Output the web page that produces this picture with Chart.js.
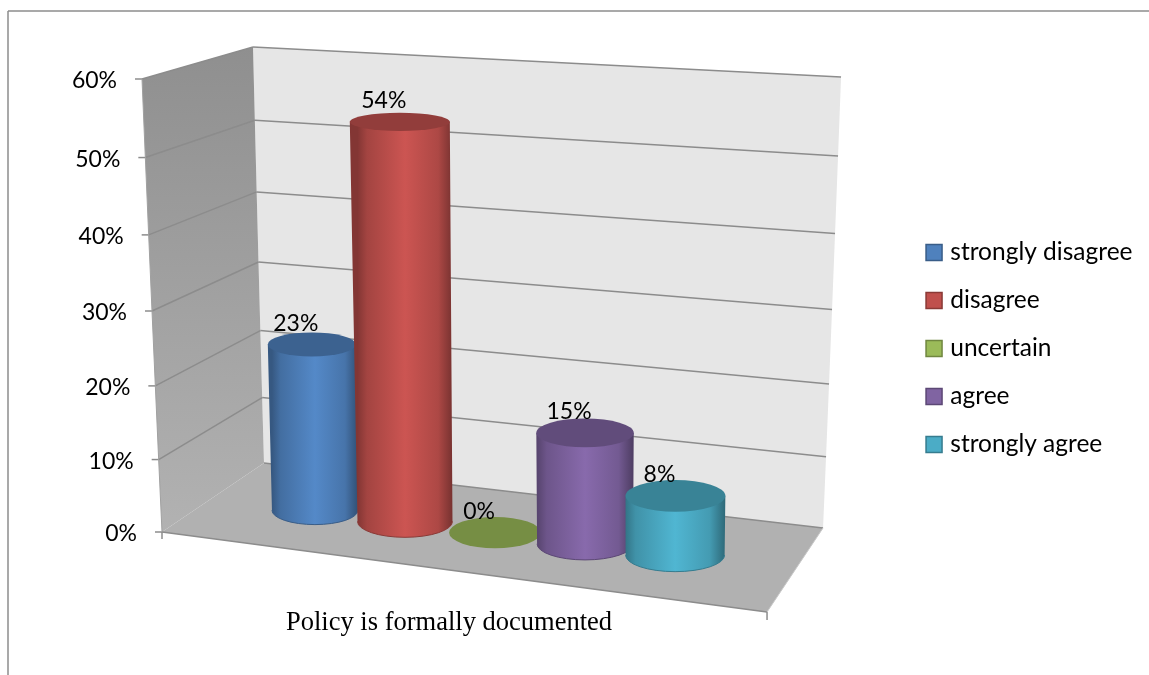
<!DOCTYPE html>
<html>
<head>
<meta charset="utf-8">
<title>Policy is formally documented</title>
<script src="https://cdn.jsdelivr.net/npm/chart.js@4/dist/chart.umd.min.js"></script>
<style>
    html, body { margin: 0; padding: 0; background: #fff; }
    canvas { display: block; }
</style>
</head>
<body>
<canvas id="policyChart" width="1149" height="675"></canvas>
<script>
const categories = ['Policy is formally documented'];
const seriesNames = ['strongly disagree', 'disagree', 'uncertain', 'agree', 'strongly agree'];
const seriesValues = [23, 54, 0, 15, 8];
const seriesColors = ['#4f81bd', '#c0504d', '#9bbb59', '#8064a2', '#4bacc6'];
const seriesWidths = [0.955, 1.055, 1.02, 1.066, 1.1];
const yMax = 60;
const yStep = 10;

const labelFont = '23px Lato';
const lineGray = '#8c8c8c';

function shade(hex, k) {
    const n = parseInt(hex.slice(1), 16);
    const c = [n >> 16, (n >> 8) & 255, n & 255].map(v => Math.min(255, Math.round(v * k)));
    return `rgb(${c[0]},${c[1]},${c[2]})`;
}

function lerp(a, b, t) {
    return a + (b - a) * t;
}

// share of the y axis for a pixel of the y scale
function heightShare(chart, value) {
    const area = chart.chartArea;
    return (area.bottom - chart.scales.y.getPixelForValue(value)) / (area.bottom - area.top);
}

// corners of the 3d box, worked out from the chart area
function boxCorners(area) {
    return {
        frontLeft: { x: area.left, y: area.bottom },
        frontLeftTop: { x: area.left - 20, y: area.top },
        backLeft: { x: area.left + 102, y: area.bottom - 69 },
        backLeftTop: { x: area.left + 91, y: area.top - 32 },
        backRight: { x: area.right - 1, y: area.bottom - 4 },
        backRightTop: { x: area.right + 17, y: area.top - 2 },
        frontRight: { x: area.right - 57, y: area.bottom + 80 }
    };
}

// points on the three upright edges, slightly bowed like the perspective in the picture
function edgePoint(bottom, top, t, bow) {
    return { x: lerp(bottom.x, top.x, t), y: lerp(bottom.y, top.y, t) + bow * t * (1 - t) };
}

function polygon(ctx, points, fill) {
    ctx.beginPath();
    points.forEach((p, i) => (i ? ctx.lineTo(p.x, p.y) : ctx.moveTo(p.x, p.y)));
    ctx.closePath();
    ctx.fillStyle = fill;
    ctx.fill();
}

function segment(ctx, a, b, color, width) {
    ctx.beginPath();
    ctx.moveTo(a.x, a.y);
    ctx.lineTo(b.x, b.y);
    ctx.strokeStyle = color;
    ctx.lineWidth = width;
    ctx.stroke();
}

function drawWalls(chart) {
    const ctx = chart.ctx;
    const box = boxCorners(chart.chartArea);
    const ticks = chart.scales.y.ticks;
    const front = ticks.map(t => edgePoint(box.frontLeft, box.frontLeftTop, heightShare(chart, t.value), 22));
    const backL = ticks.map(t => edgePoint(box.backLeft, box.backLeftTop, heightShare(chart, t.value), 28));
    const backR = ticks.map(t => edgePoint(box.backRight, box.backRightTop, heightShare(chart, t.value), 28));

    polygon(ctx, backL.concat(backR.slice().reverse()), '#e6e6e6');

    const wall = ctx.createLinearGradient(0, box.backLeftTop.y, 0, box.frontLeft.y);
    wall.addColorStop(0, '#8f8f8f');
    wall.addColorStop(1, '#b2b2b2');
    polygon(ctx, front.concat(backL.slice().reverse()), wall);

    polygon(ctx, [box.frontLeft, box.backLeft, box.backRight, box.frontRight], '#b1b1b1');

    ticks.forEach((t, i) => {
        segment(ctx, backL[i], backR[i], lineGray, 1.5);
        if (i > 0) segment(ctx, front[i], backL[i], lineGray, 1.5);
        segment(ctx, { x: front[i].x - 7, y: front[i].y }, front[i], lineGray, 1.5);
    });
    for (let i = 1; i < front.length; i++) segment(ctx, front[i - 1], front[i], '#a0a0a0', 1);
    segment(ctx, box.frontLeft, box.frontRight, lineGray, 1.5);
    segment(ctx, box.frontRight, box.backRight, '#c8c8c8', 1);
    segment(ctx, box.frontLeft, { x: box.frontLeft.x, y: box.frontLeft.y + 7 }, lineGray, 1.5);
    segment(ctx, box.frontRight, { x: box.frontRight.x, y: box.frontRight.y + 8 }, lineGray, 1.5);

    // y tick labels follow the slanted front edge
    ctx.font = labelFont;
    ctx.fillStyle = '#000';
    ctx.textAlign = 'right';
    ctx.textBaseline = 'middle';
    ticks.forEach((t, i) => {
        ctx.fillText(t.label, front[i].x - 25, front[i].y + 2);
    });
}

// where a bar stands on the floor and where its top ends up
function cylinderOf(chart, bar) {
    const box = boxCorners(chart.chartArea);
    const midL = { x: (box.frontLeft.x + box.backLeft.x) / 2, y: (box.frontLeft.y + box.backLeft.y) / 2 };
    const midR = { x: (box.frontRight.x + box.backRight.x) / 2, y: (box.frontRight.y + box.backRight.y) / 2 };
    const slope = (midR.y - midL.y) / (midR.x - midL.x);
    const baseX = bar.x + 2;
    const baseY = midL.y + slope * (baseX - midL.x);
    // bars further left stand further away, so they come out a little shorter
    const height = (bar.base - bar.y) * (0.98 - Math.max(0, 400 - baseX) * 0.0003);
    const t = height / (chart.chartArea.bottom - chart.chartArea.top);
    return {
        baseX,
        baseY,
        topX: baseX + (baseX - 590) * 0.00007 * height,
        topY: baseY - height,
        rx: bar.width / 2,
        topRx: bar.width / 2 * (1 + 0.06 * t),
        ry: bar.width / 2 * 0.335,
        topRy: bar.width / 2 * (1 + 0.06 * t) * (0.34 - 0.18 * t),
        height
    };
}

function drawCylinder(ctx, c, color) {
    if (c.height > 0) {
        const body = ctx.createLinearGradient(c.baseX - c.rx, 0, c.baseX + c.rx, 0);
        body.addColorStop(0, shade(color, 0.68));
        body.addColorStop(0.1, shade(color, 0.85));
        body.addColorStop(0.5, shade(color, 1.06));
        body.addColorStop(0.85, shade(color, 0.9));
        body.addColorStop(1, shade(color, 0.62));
        ctx.beginPath();
        ctx.moveTo(c.topX - c.topRx, c.topY);
        ctx.lineTo(c.baseX - c.rx, c.baseY);
        ctx.ellipse(c.baseX, c.baseY, c.rx, c.ry, 0, Math.PI, 0, true);
        ctx.lineTo(c.topX + c.topRx, c.topY);
        ctx.closePath();
        ctx.fillStyle = body;
        ctx.fill();
        ctx.beginPath();
        ctx.ellipse(c.baseX, c.baseY, c.rx, c.ry, 0, Math.PI, 0, true);
        ctx.strokeStyle = shade(color, 0.72);
        ctx.lineWidth = 1;
        ctx.stroke();
    }
    ctx.beginPath();
    ctx.ellipse(c.topX, c.topY, c.topRx, c.topRy, 0, 0, Math.PI * 2);
    ctx.fillStyle = shade(color, 0.76);
    ctx.fill();
}

const box3d = {
    id: 'box3d',
    beforeDraw(chart) {
        const ctx = chart.ctx;
        // outer frame of the chart, only top and left are in the picture
        segment(ctx, { x: 8, y: 675 }, { x: 8, y: 11 }, lineGray, 1.5);
        segment(ctx, { x: 8, y: 11 }, { x: 1149, y: 11 }, lineGray, 1.5);
    },
    afterLayout(chart) {
        // legend sits further right and higher than Chart.js would put it
        const legend = chart.legend;
        legend.left += 78.5;
        legend.right += 78.5;
        legend.top -= 28.5;
        legend.bottom -= 28.5;
    },
    beforeDatasetsDraw(chart) {
        const ctx = chart.ctx;
        drawWalls(chart);
        const cylinders = chart.data.datasets.map((ds, i) => cylinderOf(chart, chart.getDatasetMeta(i).data[0]));
        cylinders.forEach((c, i) => drawCylinder(ctx, c, seriesColors[i]));
        ctx.font = labelFont;
        ctx.fillStyle = '#000';
        ctx.textAlign = 'center';
        ctx.textBaseline = 'middle';
        cylinders.forEach((c, i) => {
            ctx.fillText(chart.data.datasets[i].data[0] + '%', c.topX - 16, c.topY - 21);
        });
    },
    beforeDatasetDraw() {
        return false;
    },
    afterDraw(chart) {
        // legend swatches are a bit larger than the text gap in Chart.js allows
        const ctx = chart.ctx;
        chart.legend.legendHitBoxes.forEach((hit, i) => {
            ctx.fillStyle = seriesColors[i];
            ctx.strokeStyle = shade(seriesColors[i], 0.72);
            ctx.lineWidth = 1.5;
            ctx.fillRect(hit.left, hit.top + hit.height / 2 - 8, 16, 16);
            ctx.strokeRect(hit.left, hit.top + hit.height / 2 - 8, 16, 16);
        });
    }
};

new Chart(document.getElementById('policyChart').getContext('2d'), {
    type: 'bar',
    data: {
        labels: categories,
        datasets: seriesNames.map((name, i) => ({
            label: name,
            data: [seriesValues[i]],
            backgroundColor: seriesColors[i],
            barPercentage: seriesWidths[i],
            categoryPercentage: 0.68
        }))
    },
    options: {
        responsive: false,
        animation: false,
        layout: { padding: { left: 162, top: 79, right: 85, bottom: 0 } },
        plugins: {
            title: { display: false },
            tooltip: { enabled: false },
            legend: {
                position: 'right',
                labels: {
                    font: { family: 'Lato', size: 24.5 },
                    color: '#000',
                    boxWidth: 12,
                    boxHeight: 16,
                    padding: 23.5
                }
            }
        },
        scales: {
            x: {
                grid: { display: false },
                border: { display: false },
                afterFit: scale => { scale.height = 143; },
                ticks: {
                    font: { family: '"Liberation Serif"', size: 26.5 },
                    color: '#000',
                    padding: 67,
                    labelOffset: -44,
                    maxRotation: 0
                }
            },
            y: {
                display: false,
                min: 0,
                max: yMax,
                ticks: { stepSize: yStep, callback: v => v + '%' }
            }
        }
    },
    plugins: [box3d]
});
</script>
</body>
</html>
